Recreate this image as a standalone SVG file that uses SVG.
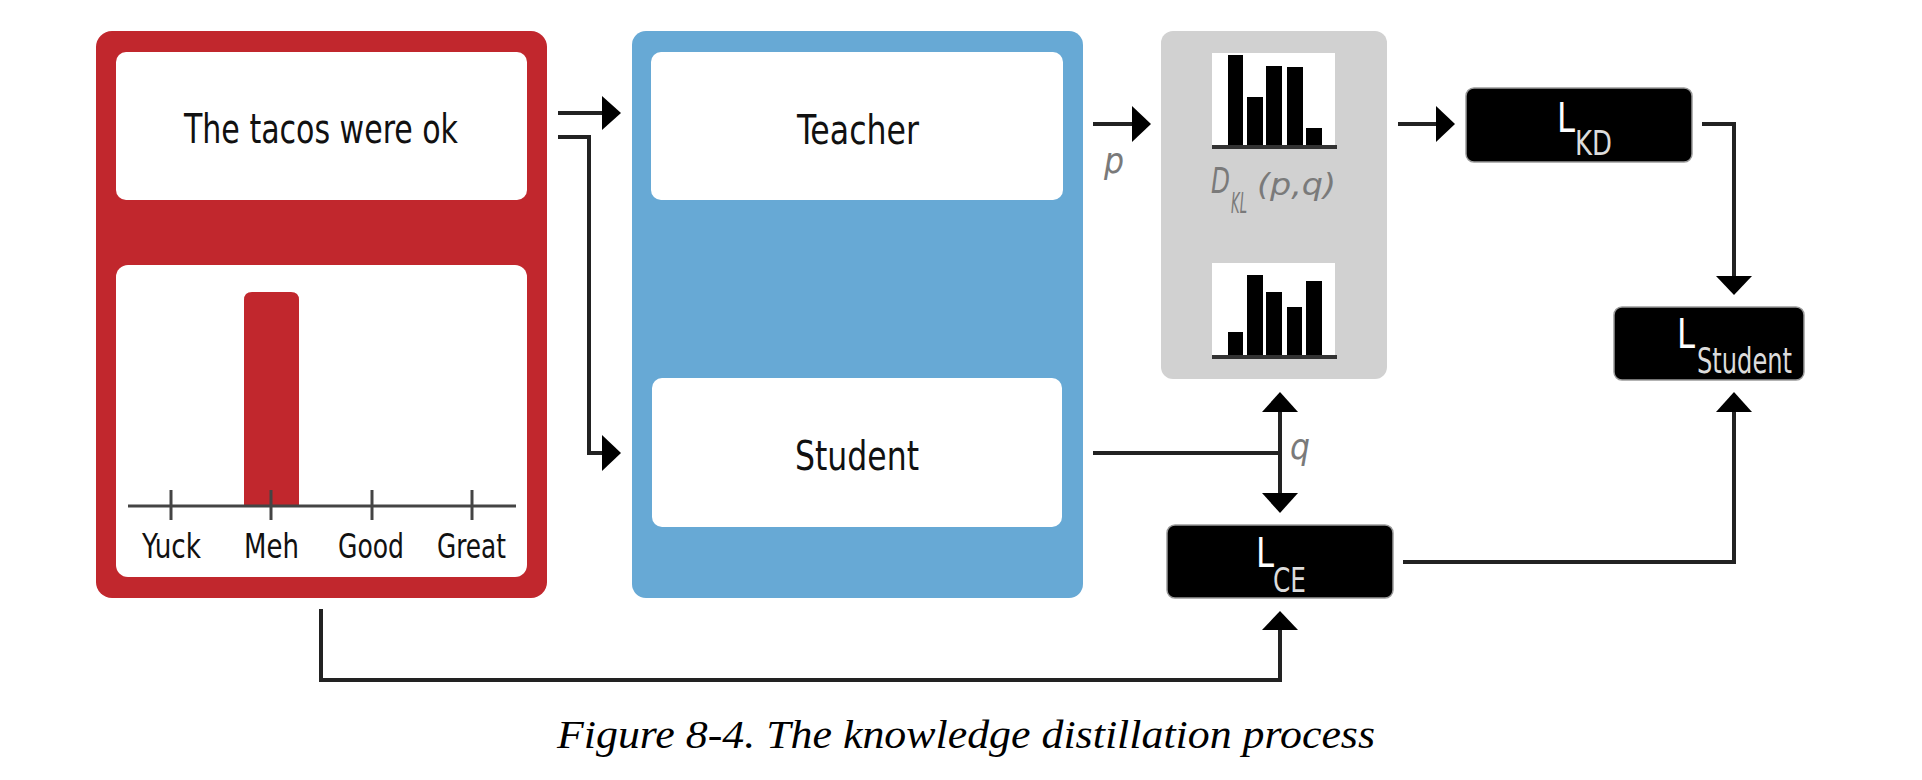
<svg xmlns="http://www.w3.org/2000/svg" width="1922" height="780" viewBox="0 0 1922 780">
  <defs>
    <style>
      .sans { font-family: "Liberation Sans Narrow", "DejaVu Sans Condensed", "Liberation Sans", sans-serif; font-stretch: condensed; }
      .lbl { font-size: 41px; fill: #111; }
      .axis { font-size: 34px; fill: #111; }
      .math { font-style: italic; fill: #7a7a7a; }
      .Lmain { font-size: 41px; fill: #ffffff; }
      .Lsub { font-size: 34px; fill: #dcdcdc; }
      .line { fill: none; stroke: #222; stroke-width: 4; }
      .head { fill: #000; }
      .bar { fill: #000; }
      .base { stroke: #333; stroke-width: 4; }
      .lossbox { fill: #000; stroke: #9a9a9a; stroke-width: 1.5; }
    </style>
  </defs>
  <rect width="1922" height="780" fill="#ffffff"/>

  <!-- Input node -->
  <g id="input">
    <rect x="96" y="31" width="451" height="567" rx="16" fill="#C1272D"/>
    <rect x="116" y="52" width="411" height="148" rx="10" fill="#ffffff"/>
    <text class="sans lbl" x="184" y="143" textLength="274" lengthAdjust="spacingAndGlyphs">The tacos were ok</text>
    <rect x="116" y="265" width="411" height="312" rx="12" fill="#ffffff"/>
    <path d="M244 506 V300 Q244 292 252 292 H291 Q299 292 299 300 V506 Z" fill="#C1272D"/>
    <line x1="128" y1="506" x2="516" y2="506" stroke="#444" stroke-width="3"/>
    <g stroke="#444" stroke-width="3">
      <line x1="171" y1="490" x2="171" y2="520"/>
      <line x1="271" y1="490" x2="271" y2="520"/>
      <line x1="372" y1="490" x2="372" y2="520"/>
      <line x1="472" y1="490" x2="472" y2="520"/>
    </g>
    <text class="sans axis" x="142" y="558" textLength="59" lengthAdjust="spacingAndGlyphs">Yuck</text>
    <text class="sans axis" x="244" y="558" textLength="55" lengthAdjust="spacingAndGlyphs">Meh</text>
    <text class="sans axis" x="338" y="558" textLength="66" lengthAdjust="spacingAndGlyphs">Good</text>
    <text class="sans axis" x="437" y="558" textLength="69" lengthAdjust="spacingAndGlyphs">Great</text>
  </g>

  <!-- Models node -->
  <g id="models">
    <rect x="632" y="31" width="451" height="567" rx="14" fill="#67A9D5"/>
  </g>
  <g id="teacher">
    <rect x="651" y="52" width="412" height="148" rx="10" fill="#ffffff"/>
    <text class="sans lbl" x="797" y="144" textLength="122" lengthAdjust="spacingAndGlyphs">Teacher</text>
  </g>
  <g id="student">
    <rect x="652" y="378" width="410" height="149" rx="10" fill="#ffffff"/>
    <text class="sans lbl" x="795" y="470" textLength="124" lengthAdjust="spacingAndGlyphs">Student</text>
  </g>

  <!-- KL divergence node -->
  <g id="kl">
    <rect x="1161" y="31" width="226" height="348" rx="12" fill="#D1D1D1"/>
    <rect x="1212" y="53" width="123" height="94" fill="#ffffff"/>
    <rect class="bar" x="1228" y="55" width="15" height="92"/>
    <rect class="bar" x="1247" y="97" width="16" height="50"/>
    <rect class="bar" x="1266" y="66" width="16" height="81"/>
    <rect class="bar" x="1287" y="67" width="16" height="80"/>
    <rect class="bar" x="1306" y="128" width="16" height="19"/>
    <line class="base" x1="1212" y1="147" x2="1337" y2="147"/>
    <text class="sans math"><tspan x="1211" y="193" style="font-size:36px" textLength="19" lengthAdjust="spacingAndGlyphs">D</tspan><tspan x="1231" y="213" style="font-size:28px" textLength="16" lengthAdjust="spacingAndGlyphs">KL</tspan><tspan x="1257" y="195" style="font-size:31px" textLength="79" lengthAdjust="spacingAndGlyphs">(p,q)</tspan></text>
    <rect x="1212" y="263" width="123" height="94" fill="#ffffff"/>
    <rect class="bar" x="1228" y="332" width="15" height="25"/>
    <rect class="bar" x="1247" y="275" width="16" height="82"/>
    <rect class="bar" x="1266" y="292" width="16" height="65"/>
    <rect class="bar" x="1287" y="307" width="15" height="50"/>
    <rect class="bar" x="1306" y="281" width="16" height="76"/>
    <line class="base" x1="1212" y1="357" x2="1337" y2="357"/>
  </g>

  <!-- Loss nodes -->
  <g id="loss-kd">
    <rect class="lossbox" x="1466" y="88" width="226" height="74" rx="8"/>
    <text class="sans Lmain" x="1557" y="132" textLength="18" lengthAdjust="spacingAndGlyphs">L</text>
    <text class="sans Lsub" x="1575" y="155" textLength="37" lengthAdjust="spacingAndGlyphs">KD</text>
  </g>
  <g id="loss-student">
    <rect class="lossbox" x="1614" y="307" width="190" height="73" rx="8"/>
    <text class="sans Lmain" x="1677" y="348" textLength="18" lengthAdjust="spacingAndGlyphs">L</text>
    <text class="sans Lsub" x="1697" y="373" style="font-size:35px" textLength="95" lengthAdjust="spacingAndGlyphs">Student</text>
  </g>
  <g id="loss-ce">
    <rect class="lossbox" x="1167" y="525" width="226" height="73" rx="8"/>
    <text class="sans Lmain" x="1256" y="567" textLength="18" lengthAdjust="spacingAndGlyphs">L</text>
    <text class="sans Lsub" x="1273" y="592" textLength="33" lengthAdjust="spacingAndGlyphs">CE</text>
  </g>

  <!-- Connectors -->
  <g id="connectors">
    <path class="line" d="M558 113 H604"/>
    <polygon class="head" points="621,113 602,96 602,130"/>
    <path class="line" d="M558 137 H589 V453 H604"/>
    <polygon class="head" points="621,453 602,435 602,471"/>

    <path class="line" d="M1093 124 H1134"/>
    <polygon class="head" points="1151,124 1132,106 1132,142"/>
    <text class="sans math" x="1104" y="173" style="font-size:35px">p</text>

    <path class="line" d="M1398 124 H1438"/>
    <polygon class="head" points="1455,124 1436,106 1436,142"/>

    <path class="line" d="M1702 124 H1734 V279"/>
    <polygon class="head" points="1734,295 1716,276 1752,276"/>

    <path class="line" d="M1093 453 H1280"/>
    <path class="line" d="M1280 410 V495"/>
    <polygon class="head" points="1280,392 1262,412 1298,412"/>
    <polygon class="head" points="1280,513 1262,493 1298,493"/>
    <text class="sans math" x="1290" y="459" style="font-size:35px">q</text>

    <path class="line" d="M321 609 V680 H1280 V628"/>
    <polygon class="head" points="1280,611 1262,630 1298,630"/>

    <path class="line" d="M1403 562 H1734 V410"/>
    <polygon class="head" points="1734,392 1716,412 1752,412"/>
  </g>

  <text x="557" y="748" font-family="'Liberation Serif', 'Times New Roman', serif" font-style="italic" font-size="40" fill="#000" textLength="818" lengthAdjust="spacingAndGlyphs">Figure 8-4. The knowledge distillation process</text>
</svg>
